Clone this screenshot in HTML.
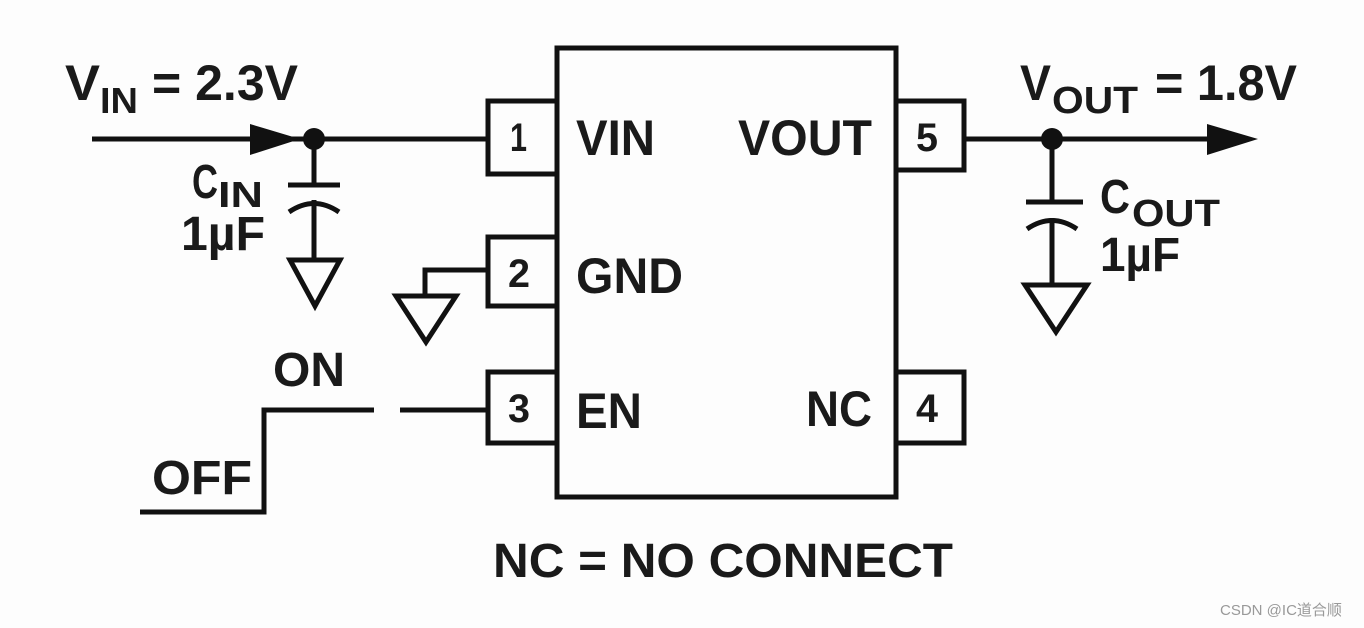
<!DOCTYPE html>
<html><head><meta charset="utf-8"><style>
html,body{margin:0;padding:0;background:#fff;}
svg{display:block;}
text{font-family:"Liberation Sans",sans-serif;font-weight:bold;fill:#1a1a1a;}
</style></head><body>
<svg width="1364" height="628" viewBox="0 0 1364 628" xmlns="http://www.w3.org/2000/svg">
<rect width="1364" height="628" fill="#fdfdfd"/>
<g stroke="#111" stroke-width="5" fill="none">
<rect x="557" y="48" width="339" height="449"/>
<polyline points="557,101 488,101 488,174 557,174"/>
<polyline points="557,237 488,237 488,306 557,306"/>
<polyline points="557,372 488,372 488,443 557,443"/>
<polyline points="896,101 964,101 964,170 896,170"/>
<polyline points="896,372 964,372 964,443 896,443"/>
<line x1="92" y1="139" x2="488" y2="139"/>
<line x1="314" y1="139" x2="314" y2="185"/>
<line x1="288" y1="185" x2="340" y2="185"/>
<path d="M289,212 Q314,195 339,212"/>
<line x1="314" y1="200" x2="314" y2="260"/>
<polygon points="290,260 340,260 315,306"/>
<polyline points="488,270 425,270 425,296"/>
<polygon points="396,296 456,296 426,342"/>
<polyline points="140,512 264,512 264,410 374,410"/>
<line x1="400" y1="410" x2="488" y2="410"/>
<line x1="964" y1="139" x2="1215" y2="139"/>
<line x1="1052" y1="139" x2="1052" y2="202"/>
<line x1="1026" y1="202" x2="1083" y2="202"/>
<path d="M1027,229 Q1052,212 1077,229"/>
<line x1="1052" y1="218" x2="1052" y2="285"/>
<polygon points="1025,285 1087,285 1056,332"/>
</g>
<polygon points="250,124 300,139 250,155" fill="#111"/>
<polygon points="1207,124 1258,139 1207,155" fill="#111"/>
<circle cx="314" cy="139" r="11" fill="#111"/>
<circle cx="1052" cy="139" r="11" fill="#111"/>
<text x="65" y="100" font-size="50" textLength="35" lengthAdjust="spacingAndGlyphs">V</text>
<text x="100" y="113" font-size="36" textLength="38" lengthAdjust="spacingAndGlyphs">IN</text>
<text x="152" y="100" font-size="50" textLength="146" lengthAdjust="spacingAndGlyphs">= 2.3V</text>
<text x="192" y="198" font-size="48" textLength="26" lengthAdjust="spacingAndGlyphs">C</text>
<text x="218" y="207" font-size="36" textLength="45" lengthAdjust="spacingAndGlyphs">IN</text>
<text x="181" y="250" font-size="48" textLength="84" lengthAdjust="spacingAndGlyphs">1µF</text>
<text x="1020" y="100" font-size="50" textLength="31" lengthAdjust="spacingAndGlyphs">V</text>
<text x="1052" y="113" font-size="38" textLength="86" lengthAdjust="spacingAndGlyphs">OUT</text>
<text x="1155" y="100" font-size="50" textLength="142" lengthAdjust="spacingAndGlyphs">= 1.8V</text>
<text x="1100" y="213" font-size="48" textLength="30" lengthAdjust="spacingAndGlyphs">C</text>
<text x="1132" y="226" font-size="38" textLength="88" lengthAdjust="spacingAndGlyphs">OUT</text>
<text x="1100" y="271" font-size="48" textLength="80" lengthAdjust="spacingAndGlyphs">1µF</text>
<text x="510" y="151" font-size="40" textLength="17" lengthAdjust="spacingAndGlyphs">1</text>
<text x="508" y="287" font-size="40" textLength="22" lengthAdjust="spacingAndGlyphs">2</text>
<text x="508" y="422" font-size="40" textLength="22" lengthAdjust="spacingAndGlyphs">3</text>
<text x="916" y="422" font-size="40" textLength="22" lengthAdjust="spacingAndGlyphs">4</text>
<text x="916" y="151" font-size="40" textLength="22" lengthAdjust="spacingAndGlyphs">5</text>
<text x="576" y="155" font-size="50" textLength="79" lengthAdjust="spacingAndGlyphs">VIN</text>
<text x="576" y="293" font-size="50" textLength="107" lengthAdjust="spacingAndGlyphs">GND</text>
<text x="576" y="428" font-size="50" textLength="66" lengthAdjust="spacingAndGlyphs">EN</text>
<text x="738" y="155" font-size="50" textLength="134" lengthAdjust="spacingAndGlyphs">VOUT</text>
<text x="806" y="426" font-size="50" textLength="66" lengthAdjust="spacingAndGlyphs">NC</text>
<text x="273" y="386" font-size="48" textLength="72" lengthAdjust="spacingAndGlyphs">ON</text>
<text x="152" y="494" font-size="48" textLength="100" lengthAdjust="spacingAndGlyphs">OFF</text>
<text x="493" y="577" font-size="48" textLength="460" lengthAdjust="spacingAndGlyphs">NC = NO CONNECT</text>
<text x="1220" y="615" font-size="15" style="font-weight:normal;fill:#999;font-family:'Liberation Sans','Noto Sans CJK SC',sans-serif">CSDN @IC道合顺</text>
</svg>
</body></html>
